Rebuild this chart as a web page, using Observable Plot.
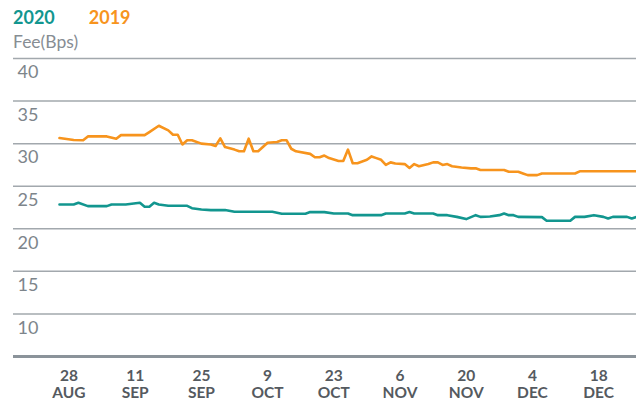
<!DOCTYPE html>
<html><head><meta charset="utf-8">
<script src="https://cdn.jsdelivr.net/npm/d3@7"></script>
<script src="https://cdn.jsdelivr.net/npm/@observablehq/plot@0.6"></script>
<style>
body{margin:0;background:#fff;font-family:Lato,"Noto Sans",sans-serif;width:636px;height:401px;position:relative;overflow:hidden;}
.leg{position:absolute;left:13px;top:6px;font-size:18px;font-weight:bold;line-height:22px;z-index:2;}
.unit{position:absolute;left:13px;top:31px;font-size:17.5px;color:#868d93;line-height:22px;z-index:2;}
#chart{position:absolute;left:0;top:50px;z-index:1;}
</style></head><body>
<div class="leg"><span style="color:#12968f">2020</span><span style="color:#f7941d;margin-left:34px">2019</span></div>
<div class="unit">Fee(Bps)</div>
<div id="chart"></div>
<script>
// Day (MM-DD) and fee values, 2020 series
const days2020 = ["08-26","08-29","08-30","09-01","09-05","09-06","09-09","09-12","09-13","09-14","09-15","09-16","09-18","09-22","09-23","09-25","09-27","09-30","10-02","10-10","10-12","10-17","10-18","10-21","10-23","10-26","10-27","11-02","11-03","11-07","11-08","11-09","11-13","11-14","11-16","11-18","11-20","11-22","11-23","11-25","11-27","11-28","11-29","11-30","12-01","12-06","12-07","12-12","12-13","12-15","12-17","12-19","12-20","12-21","12-24","12-25","12-26"];
const fee2020 = [22.86,22.86,23.05,22.66,22.66,22.86,22.86,23.05,22.58,22.58,23.05,22.86,22.7,22.7,22.42,22.27,22.19,22.2,22.0,22.0,21.77,21.77,21.96,21.96,21.8,21.8,21.6,21.6,21.8,21.8,21.96,21.8,21.8,21.6,21.6,21.4,21.14,21.6,21.4,21.45,21.6,21.8,21.6,21.6,21.4,21.37,20.95,20.95,21.4,21.4,21.6,21.4,21.2,21.4,21.4,21.2,21.4];
// 2019 series, same calendar days
const days2019 = ["08-26","08-29","08-31","09-01","09-05","09-07","09-08","09-13","09-14","09-16","09-18","09-19","09-20","09-21","09-22","09-23","09-25","09-27","09-28","09-29","09-30","10-02","10-03","10-04","10-05","10-06","10-07","10-08","10-09","10-11","10-12","10-13","10-14","10-15","10-18","10-19","10-20","10-21","10-22","10-24","10-25","10-26","10-27","10-28","10-30","10-31","11-01","11-02","11-03","11-04","11-05","11-07","11-08","11-09","11-10","11-12","11-13","11-14","11-15","11-16","11-17","11-19","11-21","11-22","11-23","11-28","11-29","12-01","12-02","12-03","12-05","12-06","12-13","12-14","12-26"];
const fee2019 = [30.66,30.42,30.39,30.85,30.85,30.58,31.0,31.0,31.36,32.1,31.56,31.05,31.05,29.9,30.39,30.39,30.0,29.9,29.72,30.62,29.6,29.3,29.1,29.1,30.58,29.1,29.1,29.6,30.1,30.2,30.4,30.4,29.4,29.1,28.8,28.4,28.4,28.6,28.3,27.96,27.96,29.3,27.7,27.7,28.1,28.5,28.3,28.1,27.5,27.8,27.66,27.6,27.15,27.6,27.35,27.6,27.8,27.8,27.5,27.6,27.35,27.2,27.1,27.1,26.9,26.9,26.7,26.7,26.5,26.3,26.3,26.5,26.5,26.75,26.75];
const yTicks = [10,15,20,25,30,35,40];
const gridValues = [10,15,20,25,30,35,40];
const baseValue = [5];
const xTickDays = ["08-28","09-11","09-25","10-09","10-23","11-06","11-20","12-04","12-18"];
const xDomainDays = ["08-26","12-26"];

const parse = s => new Date("2020-" + s + "T00:00:00Z");
const s2020 = days2020.map((d,i)=>({date:parse(d), fee:fee2020[i]}));
const s2019 = days2019.map((d,i)=>({date:parse(d), fee:fee2019[i]}));
const fmt = d3.utcFormat("%-d");
const fmtM = d3.utcFormat("%b");

const chart = Plot.plot({
  width:636, height:351, marginLeft:13, marginRight:0, marginTop:8, marginBottom:45,
  x:{type:"utc", domain:xDomainDays.map(parse), range:[59,636]},
  y:{domain:[5,40], range:[306,8]},
  style:{fontFamily:"Lato, 'Noto Sans', sans-serif", background:"transparent", overflow:"visible"},
  marks:[
    Plot.ruleY(gridValues, {stroke:"#a2a8ad", strokeWidth:1.5}),
    Plot.ruleY(baseValue, {stroke:"#8b939a", strokeWidth:3}),
    Plot.axisY(yTicks, {anchor:"left", tickSize:0, textAnchor:"start", dx:13, dy:14, fontSize:18, color:"#7d858b", label:null}),
    Plot.axisX(xTickDays.map(parse), {anchor:"bottom", tickSize:0, tickPadding:13, fontSize:15.5, fontWeight:"bold", color:"#555a5f", lineHeight:1.08, label:null,
      tickFormat: d => fmt(d) + "\n" + fmtM(d).toUpperCase()}),
    Plot.line(s2019, {x:"date", y:"fee", stroke:"#f7941d", strokeWidth:2.6}),
    Plot.line(s2020, {x:"date", y:"fee", stroke:"#12968f", strokeWidth:2.6})
  ]
});
document.getElementById("chart").appendChild(chart);
</script>
</body></html>
